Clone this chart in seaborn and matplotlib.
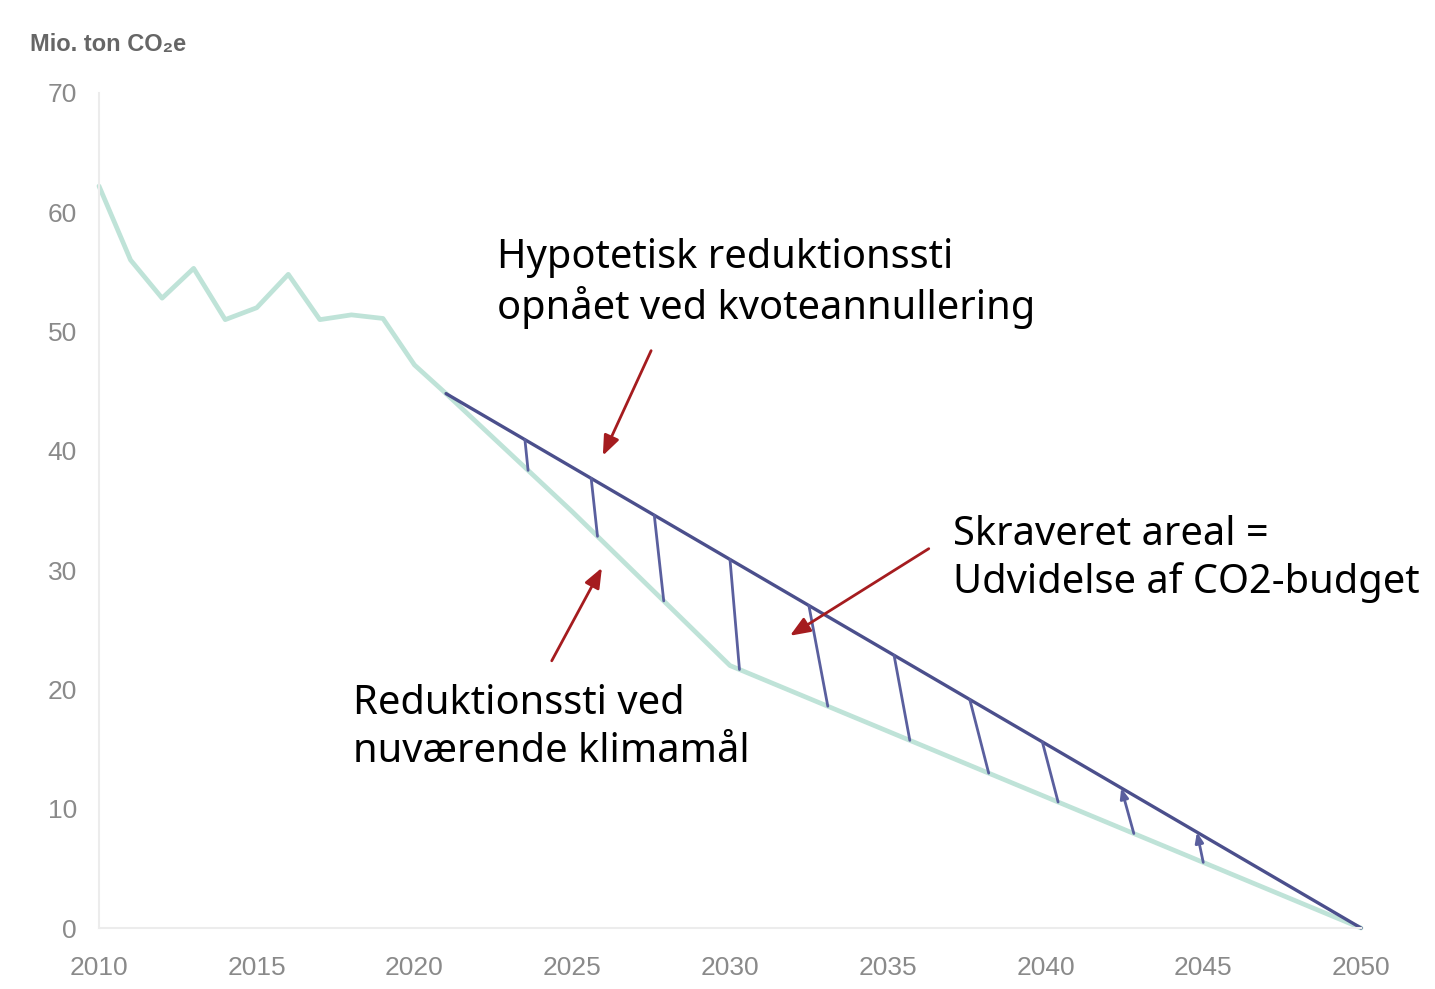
import numpy as np
import pandas as pd
import matplotlib
matplotlib.use("Agg")
import matplotlib.pyplot as plt
from matplotlib import font_manager
import seaborn as sns

# ---------------- data ----------------
hist_years = [2010, 2011, 2012, 2013, 2014, 2015, 2016, 2017, 2018, 2019, 2020, 2021]
hist_vals = [62.2, 56.0, 52.8, 55.3, 51.0, 52.0, 54.8, 51.0, 51.4, 51.1, 47.2, 44.8]

# current climate target path (green)
target_years = [2021, 2025, 2030, 2035, 2040, 2045, 2050]
target_vals = [44.8, 34.9, 22.0, 16.5, 11.0, 5.5, 0.0]

# hypothetical path via quota cancellation (blue)
cancel_years = [2021, 2050]
cancel_vals = [44.8, 0.0]

# hatch strokes: x position (year) at top (blue line) and bottom (green line)
hatch_top = [2023.5, 2025.6, 2027.6, 2030.0, 2032.5, 2035.2, 2037.6, 2039.9, 2042.4, 2044.8]
hatch_bot = [2023.6, 2025.8, 2027.9, 2030.3, 2033.1, 2035.7, 2038.2, 2040.4, 2042.8, 2045.0]
hatch_arrow = [False] * 8 + [True, True]

x_ticks = [2010, 2015, 2020, 2025, 2030, 2035, 2040, 2045, 2050]
y_ticks = [0, 10, 20, 30, 40, 50, 60, 70]

# ---------------- style ----------------
sns.set_theme(style="white")
avail = {f.name for f in font_manager.fontManager.ttflist}
tick_family = ["Liberation Sans", "DejaVu Sans"] if "Liberation Sans" in avail else ["DejaVu Sans"]
text_family = ["Noto Sans", "DejaVu Sans"]
plt.rcParams["font.family"] = text_family

GREEN = "#bfe3d8"
BLUE = "#4b4f8c"
HATCH = "#5a5f9e"
RED = "#a51c1f"
TICK = "#8a8a8a"

fig = plt.figure(figsize=(14.35, 9.89), dpi=100)
ax = fig.add_axes([99 / 1435, 1 - 928 / 989, (1361 - 99) / 1435, (928 - 93) / 989])

hist_df = pd.DataFrame({"year": hist_years, "value": hist_vals})
target_df = pd.DataFrame({"year": target_years, "value": target_vals})
cancel_df = pd.DataFrame({"year": cancel_years, "value": cancel_vals})

sns.lineplot(data=hist_df, x="year", y="value", ax=ax, color=GREEN, lw=3.4, clip_on=False)
sns.lineplot(data=target_df, x="year", y="value", ax=ax, color=GREEN, lw=3.4, clip_on=False)
sns.lineplot(data=cancel_df, x="year", y="value", ax=ax, color=BLUE, lw=2.4, clip_on=False)

# hatch strokes between the two paths
for xt, xb, arr in zip(hatch_top, hatch_bot, hatch_arrow):
    yt = np.interp(xt, cancel_years, cancel_vals)
    yb = np.interp(xb, target_years, target_vals)
    if arr:
        ax.annotate("", xy=(xt, yt), xytext=(xb, yb),
                    arrowprops=dict(arrowstyle="-|>,head_length=0.5,head_width=0.2",
                                    color=HATCH, lw=2.0, shrinkA=0, shrinkB=0))
    else:
        ax.plot([xt, xb], [yt, yb], color=HATCH, lw=2.0, solid_capstyle="round")

ax.set_xlim(2010, 2050)
ax.set_ylim(0, 70)
ax.set_xticks(x_ticks)
ax.set_yticks(y_ticks)
ax.set_xticklabels([str(v) for v in x_ticks], family=tick_family, fontsize=19, color=TICK)
ax.set_yticklabels([str(v) for v in y_ticks], family=tick_family, fontsize=19, color=TICK)
ax.tick_params(axis="x", length=0, pad=20)
ax.tick_params(axis="y", length=0, pad=16)
ax.set_xlabel("")
ax.set_ylabel("")
for s in ["top", "right"]:
    ax.spines[s].set_visible(False)
for s in ["left", "bottom"]:
    ax.spines[s].set_color("#ececec")
    ax.spines[s].set_linewidth(1.5)

fig.text(30 / 1435, 1 - 44 / 989, "Mio. ton CO₂e", family=tick_family, fontsize=17,
         fontweight="bold", color="#666666", ha="left", va="center")

# annotations
ann_kw = dict(fontsize=28.7, color="black", ha="left", va="center", linespacing=1.25)
ax.text(2022.62, 54.0, "Hypotetisk reduktionssti\nopnået ved kvoteannullering", **ann_kw)
ax.text(2018.05, 16.76, "Reduktionssti ved\nnuværende klimamål", **ann_kw)
ax.text(2037.07, 30.93, "Skraveret areal =\nUdvidelse af CO2-budget", **ann_kw)

arr_kw = dict(arrowstyle="-|>,head_length=1.0,head_width=0.4", color=RED, lw=2.0,
              shrinkA=0, shrinkB=0)
ax.annotate("", xy=(2025.97, 39.6), xytext=(2027.5, 48.4), arrowprops=arr_kw)
ax.annotate("", xy=(2025.94, 30.2), xytext=(2024.35, 22.4), arrowprops=arr_kw)
ax.annotate("", xy=(2031.9, 24.5), xytext=(2036.3, 31.8), arrowprops=arr_kw)

fig.savefig("out.png", dpi=100, facecolor="white")
